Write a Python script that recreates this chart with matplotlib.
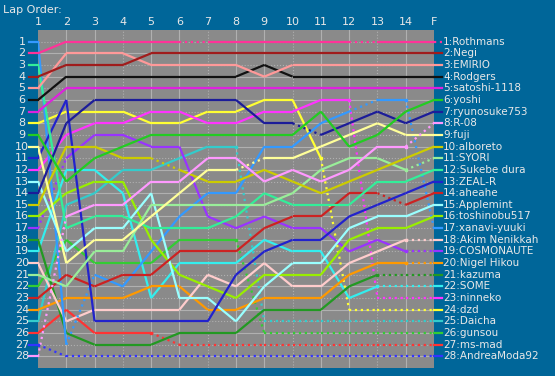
import matplotlib
matplotlib.use("Agg")
import matplotlib.pyplot as plt

laps = ["1", "2", "3", "4", "5", "6", "7", "8", "9", "10", "11", "12", "13", "14", "F"]

names = ["Rothmans", "Negi", "EMIRIO", "Rodgers", "satoshi-1118", "yoshi", "ryunosuke753",
         "R-08", "fuji", "alboreto", "SYORI", "Sukebe dura", "ZEAL-R", "aheahe", "Applemint",
         "toshinobu517", "xanavi-yuuki", "Akim Nenikkah", "COSMONAUTE", "Nigel Hikou",
         "kazuma", "SOME", "ninneko", "dzd", "Daicha", "gunsou", "ms-mad", "AndreaModa92"]

colors = ["#ff3399", "#a01c1c", "#ff9999", "#111111", "#dd22dd", "#22cc22", "#1c1c99",
          "#ff99ff", "#ffff99", "#cccc00", "#99ee99", "#33ee99", "#2222cc", "#cc2222",
          "#99ffff", "#99ee00", "#3399ff", "#ffcccc", "#9933ff", "#ff9900",
          "#229922", "#33eeee", "#ff33ff", "#ffff33", "#33cccc", "#33cc33", "#ff3333", "#3333ff"]

# position of each driver at laps 1..14 and F
pos = [
    [2, 1, 1, 1, 1, 1, 1, 1, 1, 1, 1, 1, 1, 1, 1],
    [4, 3, 3, 3, 2, 2, 2, 2, 2, 2, 2, 2, 2, 2, 2],
    [5, 2, 2, 2, 3, 3, 3, 3, 4, 3, 3, 3, 3, 3, 3],
    [6, 4, 4, 4, 4, 4, 4, 4, 3, 4, 4, 4, 4, 4, 4],
    [7, 5, 5, 5, 5, 5, 5, 5, 5, 5, 5, 5, 5, 5, 5],
    [9, 13, 11, 10, 9, 9, 9, 9, 9, 9, 7, 10, 9, 7, 6],
    [14, 8, 6, 6, 6, 6, 6, 6, 8, 8, 9, 8, 7, 8, 7],
    [28, 16, 15, 15, 13, 13, 11, 11, 13, 12, 13, 12, 10, 10, 8],
    [10, 20, 18, 18, 16, 14, 12, 12, 11, 11, 10, 9, 8, 9, 9],
    [15, 10, 10, 11, 11, 12, 13, 13, 12, 13, 14, 13, 12, 11, 10],
    [21, 22, 19, 19, 15, 15, 15, 15, 15, 14, 12, 11, 11, 12, 11],
    [3, 17, 16, 16, 17, 17, 17, 16, 14, 15, 15, 15, 13, 13, 12],
    [11, 6, 25, 25, 25, 25, 25, 21, 19, 18, 18, 16, 15, 14, 13],
    [23, 21, 22, 21, 21, 19, 19, 19, 17, 16, 16, 14, 14, 15, 14],
    [13, 19, 17, 17, 14, 23, 23, 25, 22, 20, 20, 17, 16, 16, 15],
    [16, 14, 13, 13, 18, 21, 22, 23, 21, 21, 21, 18, 17, 17, 16],
    [1, 27, 21, 22, 19, 16, 14, 14, 10, 10, 8, 7, 6, 6, 17],
    [20, 25, 24, 24, 24, 24, 21, 22, 20, 22, 22, 20, 19, 18, 18],
    [17, 11, 9, 9, 10, 10, 16, 17, 16, 17, 17, 19, 18, 19, 19],
    [24, 23, 23, 23, 22, 22, 24, 24, 23, 23, 23, 21, 20, 20, 20],
    [18, 26, 27, 27, 27, 26, 26, 26, 24, 24, 24, 22, 21, 21, 21],
    [19, 12, 12, 14, 23, 20, 20, 20, 18, 19, 19, 23, 22, 22, 22],
    [12, 9, 8, 8, 7, 7, 8, 8, 7, 7, 6, 6, 23, 23, 23],
    [8, 7, 7, 7, 8, 8, 7, 7, 6, 6, 11, 24, 24, 24, 24],
    [25, 15, 14, 12, 12, 11, 10, 10, 25, 25, 25, 25, 25, 25, 25],
    [22, 18, 20, 20, 20, 18, 18, 18, 26, 26, 26, 26, 26, 26, 26],
    [26, 24, 26, 26, 26, 27, 27, 27, 27, 27, 27, 27, 27, 27, 27],
    [27, 28, 28, 28, 28, 28, 28, 28, 28, 28, 28, 28, 28, 28, 28],
]

# laps (1..15, 15 = F) whose incoming segment is drawn dotted
dotted = {
    0: [7, 13], 6: [11], 7: [2, 15], 8: [9], 9: [6], 10: [15], 13: [14],
    16: [3, 13, 15], 17: [15], 18: [2, 15], 19: [15], 20: [14, 15], 21: [14, 15],
    22: [13, 14, 15], 23: [12, 13, 14, 15], 24: list(range(9, 16)),
    25: list(range(9, 16)), 26: list(range(6, 16)), 27: list(range(2, 16)),
}

W, H = 555, 376
fig = plt.figure(figsize=(W / 100, H / 100), dpi=100)
fig.patch.set_facecolor("#006699")
ax = fig.add_axes([38 / W, 8 / H, 396 / W, 338 / H])
ax.set_facecolor("#8a8a8a")
ax.set_xlim(1, 15)
ax.set_ylim(29, 0)
for s in ax.spines.values():
    s.set_visible(False)
ax.set_xticks([])
ax.set_yticks([])

# grid
for i in range(2, 15):
    ax.axvline(i, color="#b0b0b0", lw=0.8, ls=":" if i % 3 == 1 else "-", zorder=1)
for r in range(1, 29):
    ax.axhline(r, color="#b0b0b0", lw=0.8, ls=":" if r % 2 else "-", zorder=1)

xs = list(range(1, 16))
txt = "#e8e8e8"
for d in range(len(names) - 1, -1, -1):
    p = pos[d]
    c = colors[d]
    dl = dotted.get(d, [])
    for k in range(1, 15):
        ls = ":" if (k + 1) in dl else "-"
        ax.plot([xs[k - 1], xs[k]], [p[k - 1], p[k]], color=c, lw=1.6, ls=ls,
                solid_capstyle="butt", zorder=3)
    # retirement marker
    if dl and 15 in dl:
        k = 15
        while k - 1 in dl:
            k -= 1
        ax.plot(xs[k - 2], p[k - 2], marker="s", ms=1.8, color=c, zorder=4)
    # stubs
    ax.plot([0.68, 1], [p[0], p[0]], color=c, lw=1.6, clip_on=False, zorder=3)
    ax.plot([15, 15.3], [p[-1], p[-1]], color=c, lw=1.6, clip_on=False, zorder=3,
            ls=":" if d == 0 else "-")
    ax.text(15.32, p[-1], f"{d + 1}:{names[d]}", color=txt, fontsize=7.5,
            va="center", ha="left", clip_on=False)

for r in range(1, 29):
    ax.text(0.43, r, str(r), color=txt, fontsize=8, va="center", ha="center")
for i, lab in enumerate(laps):
    ax.text(i + 1, -0.65, lab, color=txt, fontsize=8, va="center", ha="center")

fig.text(3 / W, 1 - 10 / H, "Lap Order:", color=txt, fontsize=8, va="center", ha="left")

fig.savefig("out.png", dpi=100, facecolor=fig.get_facecolor())
